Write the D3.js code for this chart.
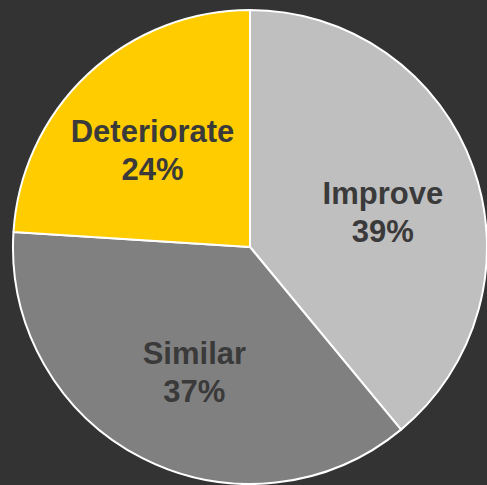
<!DOCTYPE html>
<html>
<head>
<meta charset="utf-8">
<script src="https://cdn.jsdelivr.net/npm/d3@7"></script>
<style>
  html, body { margin: 0; padding: 0; background: #333333; }
  svg { display: block; }
</style>
</head>
<body>
<svg id="chart" width="487" height="485"></svg>
<script>
// Outlook split: share of responses per category
const categories = ["Improve", "Similar", "Deteriorate"];
const shares = [39, 37, 24];
const sliceColors = ["#bfbfbf", "#808080", "#ffcc00"];

const width = 487, height = 485;
const cx = 250, cy = 247, radius = 237;

const svg = d3.select("#chart");
const g = svg.append("g").attr("transform", `translate(${cx},${cy})`);

const data = categories.map((c, i) => ({ name: c, value: shares[i], color: sliceColors[i] }));

const pie = d3.pie().value(d => d.value).sort(null);
const arc = d3.arc().innerRadius(0).outerRadius(radius);
const labelArc = d3.arc().innerRadius(138).outerRadius(138);

// small best-fit nudges for the in-slice labels
const labelNudge = { Improve: [3, 12], Similar: [7, 2], Deteriorate: [-3, 4] };

const arcs = pie(data);

g.selectAll("path.slice")
  .data(arcs)
  .join("path")
  .attr("class", "slice")
  .attr("d", arc)
  .attr("fill", d => d.data.color)
  .attr("stroke", "#ffffff")
  .attr("stroke-width", 2)
  .attr("stroke-linejoin", "round");

const labels = g.selectAll("text.label")
  .data(arcs)
  .join("text")
  .attr("class", "label")
  .attr("transform", d => {
    const [x, y] = labelArc.centroid(d);
    const [nx, ny] = labelNudge[d.data.name];
    return `translate(${x + nx},${y + ny})`;
  })
  .attr("text-anchor", "middle")
  .attr("font-family", "Liberation Sans, Arial, sans-serif")
  .attr("font-weight", "bold")
  .attr("font-size", 31)
  .attr("fill", "#3a3a3a");

labels.append("tspan")
  .attr("x", 0)
  .attr("dy", -8)
  .text(d => d.data.name);

labels.append("tspan")
  .attr("x", 0)
  .attr("dy", 38)
  .text(d => d.data.value + "%");
</script>
</body>
</html>
